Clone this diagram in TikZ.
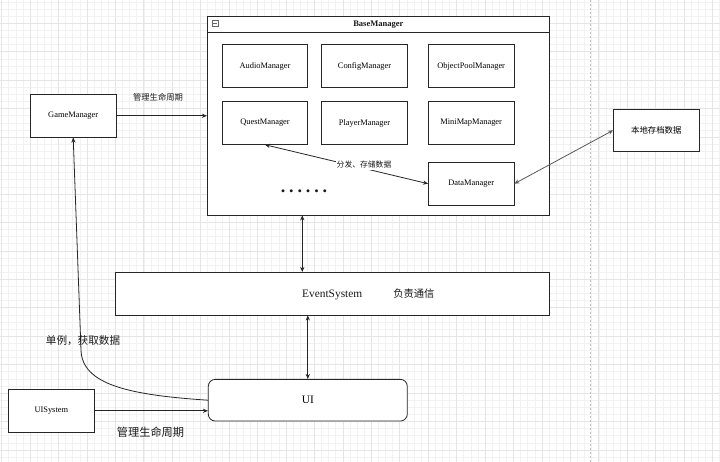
\documentclass[tikz,border=0pt]{standalone}
\usepackage{fontspec}
\setmainfont{Liberation Serif}
\newfontfamily\cjk{Noto Sans CJK SC}
\usetikzlibrary{arrows.meta,calc}
\begin{document}
\begin{tikzpicture}[x=1pt,y=-1pt,
  box/.style={draw=black!85, line width=0.8pt, fill=white, inner sep=0pt,
    minimum width=85.5pt, minimum height=42.7pt, font=\fontsize{8.4}{10}\selectfont},
  conn/.style={draw=black!85, line width=0.8pt},
  tipend/.style={-{Stealth[length=5pt,width=4.2pt]}},
  tipboth/.style={{Stealth[length=5pt,width=4.2pt]}-{Stealth[length=5pt,width=4.2pt]}},
  minorgrid/.style={draw=black!5, line width=0.5pt},
  majorgrid/.style={draw=black!10, line width=0.6pt},
  lbl/.style={inner sep=0pt, text=black!90}]
\useasboundingbox (0,0) rectangle (720,462);
\fill[white] (0,0) rectangle (720,462);
% grid
\foreach \k in {0,...,101} {
  \draw[minorgrid] ({1.55+7.11*\k},0) -- ({1.55+7.11*\k},462);
}
\foreach \k in {1,...,66} {
  \draw[minorgrid] (0,{-5.15+7.11*\k}) -- (720,{-5.15+7.11*\k});
}
\foreach \k in {0,...,25} {
  \draw[majorgrid] ({1.55+28.44*\k},0) -- ({1.55+28.44*\k},462);
}
\foreach \k in {1,...,16} {
  \draw[majorgrid] (0,{-5.15+28.44*\k}) -- (720,{-5.15+28.44*\k});
}
\draw[black!25, line width=0.6pt, dash pattern=on 2pt off 2pt] (590,0) -- (590,462);

% BaseManager container
\node[draw=black!85, line width=0.8pt, fill=white, minimum width=342pt, minimum height=199pt, inner sep=0pt] (BM) at (378.3,115.5) {};
\draw[black!85, line width=0.8pt] ($(BM.north west)+(0,16.7)$) -- ($(BM.north east)+(0,16.7)$);
\node[lbl, font=\fontsize{8.5}{10}\selectfont\bfseries] (BMt) at (378.3,24.5) {BaseManager};
\node[draw=black!60, line width=0.5pt, minimum size=6pt, inner sep=0pt] (icon) at (215,23.5) {};
\draw[black!60, line width=0.5pt] ([xshift=1.4pt]icon.west) -- ([xshift=-1.4pt]icon.east);

\node[box] (AM) at (265,66.2) {AudioManager};
\node[box] (CM) at (364.5,66.2) {ConfigManager};
\node[box] (OPM) at (471.2,66.2) {ObjectPoolManager};
\node[box] (QM) at (265,123) {QuestManager};
\node[box] (PM) at (364.5,123) {PlayerManager};
\node[box] (MMM) at (471.2,123) {MiniMapManager};
\node[box] (DM) at (471.2,183.7) {DataManager};
\node[lbl, anchor=base, font=\fontsize{18}{18}\selectfont\bfseries] (dots) at (304,192.2) {.\kern3.9pt.\kern3.9pt.\kern3.9pt.\kern3.9pt.\kern3.9pt.};

% other boxes
\node[box] (GM) at (73.2,115.8) {GameManager};
\node[box, font=\cjk\fontsize{8.4}{10}\selectfont] (LS) at (656.3,130.3) {本地存档数据};
\node[box, minimum width=433.6pt] (ES) at (332.5,293.7) {};
\node[lbl, font=\fontsize{11.4}{13}\selectfont] (ESt) at (368.3,294.3) {EventSystem\hspace{31pt}{\cjk\fontsize{10.3}{12}\selectfont 负责通信}};
\node[box, rounded corners=7pt, minimum width=199pt, minimum height=41.7pt, font=\fontsize{11.4}{13}\selectfont] (UI) at (307.8,400.2) {UI};
\node[box] (UIS) at (51.3,410.8) {UISystem};

% connectors
\draw[conn, tipend] (GM.east) -- (GM.east -| BM.west);
\node[lbl, font=\cjk\fontsize{8.3}{10}\selectfont] (L1) at (158,97.3) {管理生命周期};

\draw[conn, tipboth] (QM.south) -- (DM.west);
\node[lbl, fill=white, inner sep=1pt, font=\cjk\fontsize{7.8}{9}\selectfont] (L2) at (364,165) {分发、存储数据};

\draw[conn, draw=black!65, tipboth] (DM.east) -- (LS.west);

\coordinate (vx1) at (302.3,0);
\draw[conn, tipboth] (BM.south -| vx1) -- (ES.north -| vx1);
\draw[conn, tipboth] (ES.south -| UI.north) -- (UI.north);

\draw[conn, tipend] (UIS.east) -- (UIS.east -| UI.west);
\node[lbl, font=\cjk\fontsize{11.2}{13}\selectfont] (L4) at (150.5,432.3) {管理生命周期};

\draw[conn, tipend] (UI.west) .. controls (130,395) and (82,385) .. (81,350) -- (GM.south);
\node[lbl, font=\cjk\fontsize{10.6}{12}\selectfont] (L3) at (83,340.7) {单例，获取数据};
\end{tikzpicture}
\end{document}
